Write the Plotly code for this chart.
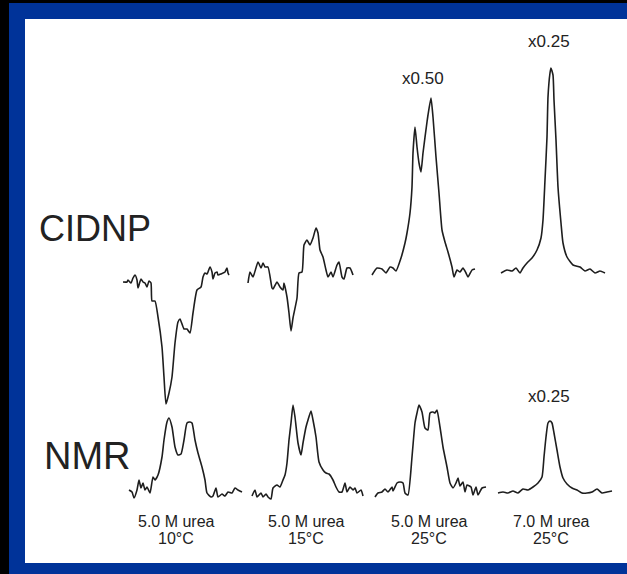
import plotly.graph_objects as go

W, H = 627, 574

# ---- data: x = point offset within each spectrum window, y = displayed intensity ----
cidnp_10_x = [3, 7, 8, 11, 13, 15, 17, 18, 21, 23, 25, 27, 29, 31, 32, 35, 38, 42, 44, 46, 49, 52, 55, 58, 60, 64, 67, 70, 73, 77, 81, 83, 85, 87, 88, 90, 92, 93, 95, 97, 98, 101, 103, 105, 107, 108, 109]
cidnp_10_y = [-10, -10, -8, -11, -6, -3, -8, -16, -7, -10, -11, -15, -9, -11, -29, -29, -45, -75, -105, -132, -121, -105, -71, -50, -47, -57, -57, -61, -41, -18, -15, -5, -1, -2, 0, 5, 0, -7, -1, 0, -3, -2, -1, 0, 4, -1, -3]

cidnp_15_x = [3, 5, 8, 13, 16, 18, 20, 23, 27, 28, 32, 35, 38, 39, 42, 44, 46, 48, 52, 54, 57, 59, 62, 65, 68, 71, 73, 75, 78, 81, 83, 86, 88, 92, 94, 97, 99, 102, 105, 108]
cidnp_15_y = [-11, 0, -5, 10, 4, 9, 5, 5, -16, -17, -10, -15, -18, -11, -25, -41, -59, -46, -26, -1, 0, 27, 32, 27, 34, 44, 39, 22, 15, 2, -5, 0, -5, 7, 10, -5, -7, 4, 4, -3]

cidnp_25_x = [2, 7, 12, 16, 20, 23, 26, 31, 35, 37, 40, 42, 43, 45, 47, 49, 51, 53, 57, 58, 61, 63, 66, 69, 72, 75, 78, 82, 84, 87, 90, 93, 96, 98, 102, 105]
cidnp_25_y = [-3, 4, 3, -1, 5, 4, 1, 14, 29, 39, 59, 85, 119, 145, 125, 109, 100, 119, 150, 157, 174, 155, 115, 79, 42, 30, 20, 5, -5, 2, 0, 4, -1, -5, 2, 3]

cidnp_7m_x = [6, 12, 17, 21, 25, 28, 32, 37, 42, 46, 48, 50, 52, 53, 55, 56, 58, 59, 61, 63, 66, 68, 72, 78, 85, 90, 95, 100, 105, 110]
cidnp_7m_y = [-1, 2, 1, 4, -1, 4, 9, 14, 22, 34, 52, 92, 135, 175, 199, 204, 197, 172, 132, 85, 49, 29, 15, 7, 5, 1, 3, -1, 1, -1]

nmr_10_x = [9, 12, 14, 17, 19, 21, 23, 25, 27, 30, 33, 35, 38, 42, 44, 47, 49, 52, 55, 58, 61, 64, 67, 70, 72, 75, 78, 82, 85, 87, 91, 93, 96, 98, 102, 105, 108, 112, 115, 118, 122]
nmr_10_y = [2, 0, -6, 2, 12, 4, 9, 2, 5, -1, 15, 12, 17, 35, 52, 70, 74, 65, 45, 37, 38, 52, 69, 70, 69, 52, 39, 25, 12, -1, -5, -4, 4, -5, -2, -4, 0, -1, 4, 2, 0]

nmr_15_x = [7, 10, 12, 16, 18, 21, 23, 26, 28, 32, 35, 38, 40, 42, 44, 46, 48, 50, 53, 56, 58, 61, 63, 66, 68, 71, 74, 78, 81, 84, 88, 91, 94, 97, 100, 102, 105, 108, 110, 112, 116, 118]
nmr_15_y = [-4, 2, -5, -1, -5, -2, -5, -7, 4, 7, 5, 12, 17, 29, 52, 69, 87, 75, 49, 37, 49, 65, 72, 81, 72, 55, 30, 22, 19, 18, 12, 5, 0, 0, 9, 0, 5, 2, 4, -1, 2, -4]

nmr_25_x = [5, 8, 12, 15, 18, 22, 23, 27, 30, 33, 35, 38, 42, 45, 47, 49, 52, 55, 58, 60, 63, 65, 67, 70, 73, 77, 80, 83, 86, 88, 90, 93, 95, 97, 101, 103, 106, 108, 112, 116]
nmr_25_y = [-5, -1, 0, 3, 0, 5, 1, 9, 10, 9, -1, -3, 35, 69, 79, 87, 80, 64, 62, 79, 80, 79, 82, 65, 45, 25, 9, 4, 9, 14, 6, 10, 0, 7, 5, -3, 5, -3, 4, 5]

nmr_7m_x = [3, 8, 13, 18, 23, 28, 33, 38, 43, 47, 49, 51, 53, 55, 57, 59, 62, 65, 68, 72, 77, 82, 87, 92, 97, 102, 107, 112, 117]
nmr_7m_y = [-1, 0, -1, 1, -1, 3, 2, 5, 9, 15, 35, 55, 69, 71, 69, 59, 42, 25, 14, 8, 4, 2, -1, -1, 0, 3, -1, 0, 1]

row_labels = ["CIDNP", "NMR"]
scale_labels = ["x0.50", "x0.25", "x0.25"]
conc_labels = ["5.0 M urea", "5.0 M urea", "5.0 M urea", "7.0 M urea"]
temp_labels = ["10°C", "15°C", "25°C", "25°C"]

cidnp = [(cidnp_10_x, cidnp_10_y), (cidnp_15_x, cidnp_15_y), (cidnp_25_x, cidnp_25_y), (cidnp_7m_x, cidnp_7m_y)]
nmr = [(nmr_10_x, nmr_10_y), (nmr_15_x, nmr_15_y), (nmr_25_x, nmr_25_y), (nmr_7m_x, nmr_7m_y)]

# ---- layout helpers (pixel -> paper) ----
def px(x):
    return x / W

def py(y):
    return 1 - y / H

col_left = [120, 245, 370, 495]
col_span = 130
line_col = "#1e1e1e"
txt_col = "#222222"
font_family = "Liberation Sans, Arial, sans-serif"

fig = go.Figure()
layout = {}
for c in range(4):
    ax = "xaxis" if c == 0 else f"xaxis{c+1}"
    layout[ax] = dict(domain=[px(col_left[c]), px(col_left[c] + col_span)], range=[0, col_span],
                      visible=False, fixedrange=True)
layout["yaxis"] = dict(domain=[py(420), py(40)], range=[-148, 232], visible=False, fixedrange=True)
layout["yaxis2"] = dict(domain=[py(510), py(380)], range=[-18, 112], visible=False, fixedrange=True)

trace_line = dict(color=line_col, width=1.6, shape="spline", smoothing=0.5)
for c in range(4):
    xref = "x" if c == 0 else f"x{c+1}"
    fig.add_trace(go.Scatter(x=cidnp[c][0], y=cidnp[c][1], mode="lines", xaxis=xref, yaxis="y",
                             line=trace_line, hoverinfo="skip", showlegend=False))
    fig.add_trace(go.Scatter(x=nmr[c][0], y=nmr[c][1], mode="lines", xaxis=xref, yaxis="y2",
                             line=trace_line, hoverinfo="skip", showlegend=False))

ann = []
ann.append(dict(text=row_labels[0], x=px(37), y=py(229), xref="paper", yref="paper", xanchor="left",
                yanchor="middle", showarrow=False, font=dict(size=36, color=txt_col, family=font_family)))
ann.append(dict(text=row_labels[1], x=px(42), y=py(456), xref="paper", yref="paper", xanchor="left",
                yanchor="middle", showarrow=False, font=dict(size=38, color=txt_col, family=font_family)))

# scale factor labels attached to the panel axes
scale_pos = [(53, 194, "x3", "y"), (54, 230, "x4", "y"), (54, 96, "x4", "y2")]
for lbl, (sx, sy, xr, yr) in zip(scale_labels, scale_pos):
    ann.append(dict(text=lbl, x=sx, y=sy, xref=xr, yref=yr, xanchor="center", yanchor="middle",
                    showarrow=False, font=dict(size=17, color=txt_col, family=font_family)))

label_cx = [176, 306, 429, 551]
for c in range(4):
    ann.append(dict(text=conc_labels[c], x=px(label_cx[c]), y=py(521), xref="paper", yref="paper",
                    xanchor="center", yanchor="middle",
                    showarrow=False, font=dict(size=16, color=txt_col, family=font_family)))
    ann.append(dict(text=temp_labels[c], x=px(label_cx[c]), y=py(538), xref="paper", yref="paper",
                    xanchor="center", yanchor="middle",
                    showarrow=False, font=dict(size=16, color=txt_col, family=font_family)))

shapes = [
    dict(type="rect", xref="paper", yref="paper", x0=0, x1=px(9), y0=0, y1=1,
         fillcolor="#000000", line=dict(width=0), layer="below"),
    dict(type="rect", xref="paper", yref="paper", x0=0, x1=1, y0=py(3), y1=1,
         fillcolor="#000000", line=dict(width=0), layer="below"),
    dict(type="rect", xref="paper", yref="paper", x0=px(25), x1=1, y0=py(563), y1=py(19),
         fillcolor="#ffffff", line=dict(width=0), layer="below"),
]

fig.update_layout(
    width=W, height=H, margin=dict(l=0, r=0, t=0, b=0),
    paper_bgcolor="#003399", plot_bgcolor="rgba(0,0,0,0)",
    annotations=ann, shapes=shapes, showlegend=False,
    **layout,
)

fig.write_html("out.html", config={"displayModeBar": False},
               post_script="document.body.style.margin='0';document.body.style.padding='0';")
